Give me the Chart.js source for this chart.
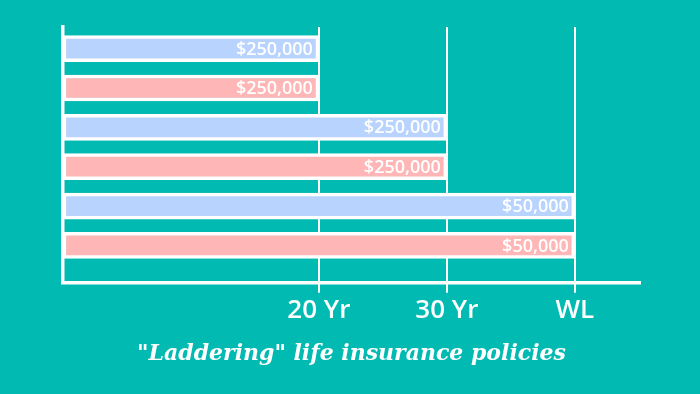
<!DOCTYPE html>
<html>
<head>
<meta charset="utf-8">
<script src="https://cdn.jsdelivr.net/npm/chart.js@4.4.1/dist/chart.umd.min.js"></script>
<style>
    html, body { margin: 0; padding: 0; background: #01BAB2; }
    #wrap { width: 700px; height: 394px; position: relative; }
</style>
</head>
<body>
<div id="wrap"><canvas id="ladderChart"></canvas></div>
<script>
// one bar per policy, top to bottom
const policies = ['Policy A1', 'Policy B1', 'Policy A2', 'Policy B2', 'Policy A3', 'Policy B3'];
const termYears = [20, 20, 30, 30, 40, 40];   // 40 = whole life
const coverage = ['$250,000', '$250,000', '$250,000', '$250,000', '$50,000', '$50,000'];
const tickValues = [20, 30, 40];
const tickLabels = ['20 Yr', '30 Yr', 'WL'];
const barColors = ['#B8D3FD', '#FEB6B6', '#B8D3FD', '#FEB6B6', '#B8D3FD', '#FEB6B6'];

// draws "$250,000" etc. at the right end of each bar, plus the little tick marks under the axis
const valueLabels = {
    id: 'valueLabels',
    afterDatasetsDraw(chart) {
        const ctx = chart.ctx;
        const meta = chart.getDatasetMeta(0);
        ctx.save();
        ctx.fillStyle = '#ffffff';
        ctx.font = '600 18px "Open Sans"';
        ctx.textAlign = 'right';
        ctx.textBaseline = 'middle';
        meta.data.forEach((bar, i) => {
            ctx.fillText(coverage[i], bar.x - 6, bar.y + 1);
        });
        ctx.restore();
    },
    afterDraw(chart) {
        const ctx = chart.ctx;
        const xScale = chart.scales.x;
        const bottom = chart.chartArea.bottom;
        ctx.save();
        ctx.strokeStyle = '#ffffff';
        ctx.lineWidth = 2;
        tickValues.forEach(v => {
            const px = Math.round(xScale.getPixelForValue(v));
            ctx.beginPath();
            ctx.moveTo(px, bottom);
            ctx.lineTo(px, bottom + 10);
            ctx.stroke();
        });
        ctx.restore();
    }
};

new Chart(document.getElementById('ladderChart'), {
    type: 'bar',
    data: {
        datasets: [{
            label: 'Coverage',
            data: termYears.map((v, i) => ({ x: v, y: i + 1, name: policies[i] })),
            backgroundColor: barColors,
            borderColor: '#ffffff',
            borderWidth: 3.5,
            borderSkipped: false,
            barThickness: 26
        }]
    },
    options: {
        indexAxis: 'y',
        responsive: true,
        maintainAspectRatio: false,
        animation: false,
        layout: {
            padding: { left: 63, right: 60, top: 27, bottom: 27 }
        },
        plugins: {
            legend: { display: false },
            tooltip: { enabled: false },
            title: {
                display: true,
                position: 'bottom',
                text: '"Laddering" life insurance policies',
                color: '#ffffff',
                font: { family: '"DejaVu Serif"', size: 22, style: 'italic', weight: 'bold' },
                padding: { top: 11, bottom: 0 }
            }
        },
        scales: {
            x: {
                type: 'linear',
                min: 0,
                max: 45.1,
                afterBuildTicks: (axis) => {
                    axis.ticks = tickValues.map(v => ({ value: v }));
                },
                ticks: {
                    color: '#ffffff',
                    font: { family: '"Open Sans"', size: 26, weight: '600' },
                    padding: 3,
                    callback: (value) => tickLabels[tickValues.indexOf(value)]
                },
                grid: {
                    color: '#ffffff',
                    lineWidth: 2,
                    tickColor: '#ffffff',
                    tickWidth: 2,
                    tickLength: 10,
                    drawTicks: true
                },
                border: { color: '#ffffff', width: 3.5 }
            },
            y: {
                type: 'linear',
                reverse: true,
                offset: false,
                min: 0.45,
                max: 6.94,
                ticks: { display: false },
                grid: { display: false, drawTicks: false, offset: false },
                border: { color: '#ffffff', width: 3.5 }
            }
        }
    },
    plugins: [valueLabels]
});
</script>
</body>
</html>
